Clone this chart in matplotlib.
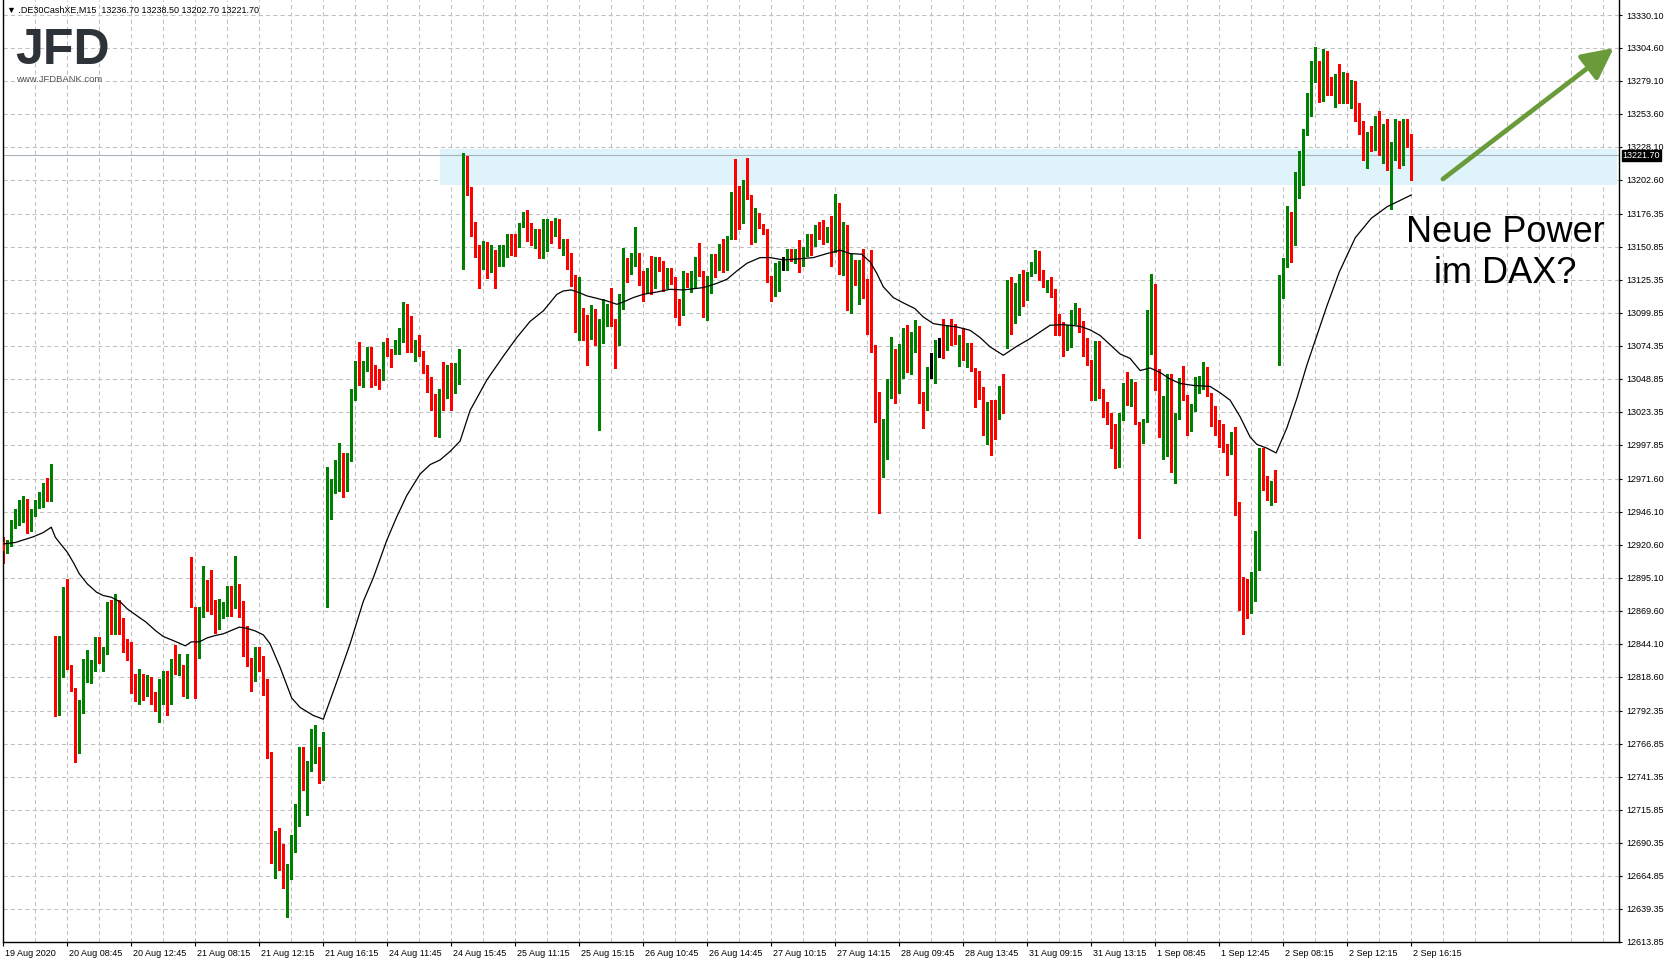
import matplotlib
matplotlib.use("Agg")
import matplotlib.pyplot as plt
from matplotlib.collections import LineCollection
from matplotlib.patches import Rectangle

plt.rcParams['font.family'] = ['Liberation Sans', 'DejaVu Sans']

# ---------------- data (M15 candles, index 0..352) ----------------
opens = [
 12922.6,12915.7,12920.3,12934.2,12936.3,12945.6,12954.8,12937.3,12943.5,12954.8,
 12955.1,12967.2,12958.7,12847.9,12795.1,12825.5,12869.8,12827.3,12808.5,12770.0,
 12795.1,12818.0,12820.2,12826.0,12839.4,12832.2,12837.1,12862.6,12857.0,12872.0,
 12859.5,12842.5,12839.4,12816.2,12809.3,12820.3,12811.8,12812.6,12799.5,12798.2,
 12798.2,12816.7,12799.0,12827.3,12822.1,12827.3,12803.4,12887.8,12866.7,12835.0,
 12866.7,12889.9,12872.9,12870.3,12859.5,12867.2,12871.1,12884.8,12873.4,12882.2,
 12876.8,12853.3,12830.6,12823.5,12837.4,12829.6,12816.4,12759.6,12682.0,12690.4,
 12688.5,12664.9,12670.0,12688.2,12704.0,12750.5,12734.9,12747.6,12757.4,12757.4,
 12749.4,12872.2,12951.6,12962.5,12973.5,12980.0,12964.3,12987.0,13037.2,13061.9,
 13046.3,13057.3,13068.9,13054.7,13049.9,13048.9,13071.8,13070.0,13069.3,13071.8,
 13079.1,13098.4,13096.2,13070.0,13075.1,13070.0,13056.1,13048.1,13029.2,13014.6,
 13040.1,13035.4,13059.8,13040.1,13046.3,13142.9,13219.4,13196.4,13169.1,13145.4,
 13142.9,13152.0,13135.6,13147.2,13139.2,13148.3,13152.0,13155.6,13152.0,13152.0,
 13167.3,13169.1,13167.3,13158.9,13164.0,13147.7,13167.1,13169.6,13164.5,13169.1,
 13151.0,13153.6,13138.2,13128.9,13088.5,13103.4,13085.1,13083.3,13101.9,13056.3,
 13091.1,13098.0,13101.9,13091.8,13076.4,13105.7,13140.8,13133.6,13136.9,13145.9,
 13130.5,13118.9,13123.3,13120.7,13140.8,13137.4,13125.8,13131.8,13127.6,13101.9,
 13098.3,13127.1,13123.8,13128.9,13141.3,13129.7,13096.7,13127.6,13139.7,13133.6,
 13150.0,13133.6,13157.5,13218.6,13180.7,13169.6,13200.0,13190.7,13159.3,13170.9,
 13167.6,13164.5,13128.4,13114.2,13131.5,13137.4,13136.6,13145.1,13140.8,13149.0,
 13143.9,13150.3,13156.8,13152.1,13164.5,13159.9,13158.1,13159.4,13154.7,13178.0,
 13155.5,13163.2,13104.0,13138.0,13125.1,13137.5,13123.8,13126.4,13071.0,13038.3,
 12996.8,13002.8,13049.1,13064.6,13046.6,13060.7,13081.9,13069.0,13078.7,13088.6,
 13038.0,13028.0,13054.8,13056.1,13078.7,13079.5,13072.3,13088.3,13084.4,13078.7,
 13080.0,13064.6,13071.8,13056.4,13045.3,13042.7,13013.1,13027.2,13023.4,13022.6,
 13036.3,13083.9,13108.4,13094.7,13105.8,13123.8,13112.8,13130.3,13135.4,13145.2,
 13129.0,13120.8,13124.4,13118.7,13097.6,13091.1,13075.4,13083.8,13099.6,13101.0,
 13091.0,13079.0,13062.4,13042.4,13078.1,13040.1,13026.7,13019.0,13002.4,12999.6,
 13019.6,13035.3,13029.6,13045.3,13015.3,13000.2,13017.3,13086.7,13107.5,13055.3,
 13008.1,13016.7,13032.4,12992.4,13021.0,13048.7,13034.4,13013.9,13023.9,13040.1,
 13042.4,13053.8,13036.7,13025.9,13008.7,13004.7,12996.7,12991.6,13000.1,12951.6,
 12892.5,12880.0,12873.9,12878.2,12909.6,12993.9,12971.0,12956.7,12963.9,13072.4,
 13119.5,13136.1,13171.5,13153.2,13189.5,13202.9,13238.1,13268.6,13278.9,13290.9,
 13266.6,13298.0,13270.9,13270.9,13288.0,13268.0,13282.0,13266.0,13275.0,13252.0,
 13244.0,13222.0,13236.0,13230.0,13248.0,13226.0,13240.0,13218.0,13226.0,13244.0,
 13220.0,13246.0,13236.7]

highs = [
 12927.0,12924.7,12939.4,12948.4,12955.6,12958.7,12956.1,12948.1,12955.3,12961.8,
 12968.5,12972.1,12982.9,12850.5,12850.5,12888.3,12894.5,12828.0,12810.0,12800.6,
 12832.4,12839.4,12831.3,12849.2,12849.2,12841.5,12876.3,12878.1,12882.2,12877.6,
 12864.2,12847.7,12845.4,12820.9,12824.7,12820.9,12819.6,12818.3,12806.7,12816.5,
 12822.9,12822.9,12832.2,12842.8,12836.3,12827.8,12836.3,12911.5,12872.4,12872.9,
 12904.6,12893.5,12901.5,12877.6,12878.9,12876.3,12888.6,12888.6,12912.3,12890.4,
 12877.3,12857.5,12833.2,12841.5,12842.0,12835.0,12817.0,12760.3,12699.2,12702.0,
 12689.0,12673.6,12696.6,12720.3,12764.0,12764.0,12753.8,12778.6,12781.5,12764.0,
 12775.6,12980.7,12971.6,12986.2,12999.0,12991.7,12991.7,13040.9,13062.7,13077.3,
 13062.7,13073.6,13073.6,13059.8,13056.2,13077.3,13080.2,13071.8,13079.1,13088.2,
 13108.3,13106.4,13097.3,13079.1,13082.7,13070.7,13059.8,13050.0,13037.2,13040.9,
 13062.0,13059.8,13060.9,13060.9,13071.8,13223.7,13220.8,13197.5,13170.2,13152.0,
 13155.6,13154.5,13152.0,13148.3,13152.0,13152.7,13161.0,13161.0,13161.0,13169.1,
 13177.5,13179.3,13169.1,13164.7,13165.0,13172.2,13172.2,13170.9,13173.5,13172.2,
 13157.3,13157.3,13145.9,13129.0,13127.9,13103.9,13098.0,13106.0,13102.7,13094.9,
 13110.9,13106.5,13119.4,13094.9,13114.2,13149.8,13142.6,13146.4,13166.0,13146.4,
 13132.3,13134.9,13143.9,13143.4,13143.4,13140.0,13134.9,13134.9,13127.9,13110.4,
 13132.3,13130.5,13132.3,13143.4,13153.6,13132.3,13128.4,13145.1,13145.1,13152.9,
 13157.3,13159.3,13193.6,13218.6,13198.0,13202.6,13219.9,13190.7,13180.7,13176.8,
 13168.9,13165.0,13128.4,13138.2,13140.0,13143.4,13149.5,13149.5,13149.5,13156.0,
 13150.8,13160.6,13161.2,13167.6,13170.0,13172.0,13166.3,13175.0,13192.0,13185.0,
 13170.0,13167.6,13145.7,13141.1,13140.6,13149.6,13126.4,13148.8,13074.9,13038.5,
 13018.2,13049.1,13081.3,13072.3,13075.7,13087.8,13090.4,13085.2,13094.2,13089.6,
 13038.8,13058.1,13068.5,13078.7,13080.8,13095.5,13090.4,13095.5,13091.6,13082.6,
 13087.8,13076.2,13076.2,13056.9,13055.1,13042.7,13031.1,13032.4,13032.4,13043.2,
 13052.5,13125.6,13127.7,13122.6,13130.3,13132.9,13131.6,13139.3,13148.3,13147.8,
 13132.9,13125.1,13127.7,13118.7,13098.9,13092.9,13090.4,13101.8,13107.2,13103.8,
 13093.8,13080.1,13063.8,13078.1,13078.1,13041.0,13031.0,13022.4,13013.9,13022.4,
 13045.3,13053.8,13048.7,13046.7,13015.3,13018.2,13102.4,13130.1,13122.4,13056.7,
 13035.3,13052.4,13052.4,13022.4,13049.6,13059.0,13036.7,13029.6,13050.4,13051.0,
 13061.8,13058.1,13038.1,13028.1,13016.7,13013.9,12998.2,13008.1,13011.6,12953.9,
 12896.0,12893.9,12899.6,12931.0,12995.3,12995.3,12973.9,12969.6,12978.2,13129.5,
 13142.4,13182.4,13178.1,13208.6,13225.2,13242.3,13269.5,13294.3,13305.7,13294.3,
 13303.7,13302.3,13282.3,13284.6,13292.0,13286.0,13285.0,13280.0,13279.0,13262.0,
 13248.0,13240.0,13244.0,13252.0,13256.0,13246.0,13250.0,13232.0,13250.0,13248.0,
 13250.0,13250.0,13238.5]

lows = [
 12906.4,12914.1,12920.0,12933.7,12935.8,12938.1,12929.6,12931.6,12943.0,12948.9,
 12950.2,12954.3,12954.3,12787.9,12788.7,12818.3,12824.7,12807.5,12753.0,12760.0,
 12790.3,12814.4,12814.0,12822.9,12829.4,12822.9,12836.3,12851.8,12851.8,12851.8,
 12837.6,12831.7,12806.1,12799.7,12797.7,12800.8,12803.4,12797.7,12792.0,12784.0,
 12797.7,12789.4,12797.7,12820.9,12819.6,12803.4,12802.4,12872.4,12802.0,12833.2,
 12864.7,12869.1,12867.2,12852.3,12855.7,12864.2,12865.9,12865.2,12871.6,12864.7,
 12834.8,12826.6,12807.5,12815.7,12823.0,12804.9,12756.0,12674.7,12663.0,12669.3,
 12655.0,12633.0,12662.0,12683.1,12703.0,12731.2,12711.9,12745.8,12752.3,12736.7,
 12738.5,12872.2,12940.7,12960.7,12962.5,12957.8,12962.5,12985.5,13032.8,13044.5,
 13042.7,13054.7,13042.7,13044.5,13040.9,13048.1,13066.4,13058.4,13068.2,13068.2,
 13077.3,13070.0,13069.3,13062.7,13066.4,13053.6,13039.0,13024.5,13004.4,13003.7,
 13024.5,13034.3,13024.5,13038.0,13045.2,13133.7,13190.9,13159.2,13142.9,13119.2,
 13133.7,13126.5,13131.2,13119.2,13136.3,13136.3,13142.9,13144.7,13143.6,13150.9,
 13166.5,13155.6,13152.0,13150.1,13142.1,13142.6,13147.7,13154.2,13159.3,13150.3,
 13144.4,13133.6,13120.7,13085.1,13078.9,13078.9,13059.9,13079.5,13074.8,13009.4,
 13076.9,13089.8,13089.8,13057.6,13075.3,13103.2,13123.8,13129.7,13136.1,13121.2,
 13109.1,13115.5,13114.2,13119.4,13132.3,13116.8,13119.4,13122.0,13096.7,13090.5,
 13098.0,13120.2,13116.0,13119.4,13128.4,13097.0,13094.1,13115.0,13127.9,13133.1,
 13131.8,13133.1,13157.3,13157.3,13165.0,13169.1,13188.2,13152.9,13154.7,13165.8,
 13160.6,13123.8,13109.1,13112.9,13116.8,13133.1,13133.1,13140.0,13138.7,13131.5,
 13136.1,13143.9,13144.4,13151.4,13157.3,13153.0,13154.7,13136.0,13147.0,13130.3,
 13129.0,13102.4,13099.9,13121.3,13107.1,13111.0,13083.4,13069.7,13015.6,12945.3,
 12973.1,12987.3,13033.7,13030.3,13038.0,13049.9,13054.3,13052.5,13069.7,13030.3,
 13010.5,13024.7,13049.9,13045.3,13065.4,13065.1,13071.5,13074.9,13075.7,13058.9,
 13063.8,13058.1,13055.1,13027.2,13033.2,13005.3,12998.9,12990.4,13002.0,13018.2,
 13022.1,13073.1,13083.9,13092.0,13098.1,13105.0,13110.0,13128.0,13131.0,13125.1,
 13120.0,13116.1,13112.3,13082.6,13082.6,13066.4,13071.5,13073.3,13091.0,13085.3,
 13066.7,13059.6,13032.4,13032.4,13033.8,13019.6,13013.9,12995.3,12980.2,12981.0,
 13016.7,13028.7,13028.1,13013.9,12925.9,12999.6,13015.3,13068.1,13040.1,13003.9,
 12986.7,12989.6,12976.8,12968.2,13018.2,13032.4,13005.3,13008.7,13023.9,13038.1,
 13041.0,13035.3,13012.5,13005.3,12996.1,12992.4,12974.4,12991.0,12943.9,12870.0,
 12852.0,12863.9,12867.6,12876.8,12901.1,12963.0,12955.3,12951.6,12953.9,13059.6,
 13111.0,13135.2,13139.5,13152.4,13188.6,13198.9,13237.2,13252.3,13278.0,13262.9,
 13263.8,13268.6,13268.6,13258.9,13262.0,13262.0,13262.0,13258.0,13248.0,13238.0,
 13218.0,13212.0,13225.0,13226.0,13222.0,13216.0,13210.0,13180.0,13218.0,13212.0,
 13214.0,13228.0,13202.7]

closes = [
 12915.7,12921.3,12933.7,12936.3,12944.8,12954.3,12937.8,12943.0,12954.8,12955.3,
 12967.2,12958.2,12981.6,12795.1,12826.6,12870.3,12828.1,12810.6,12766.0,12795.6,
 12818.0,12819.6,12826.3,12839.4,12831.9,12836.3,12862.1,12857.7,12872.0,12859.5,
 12843.3,12838.4,12818.0,12809.3,12822.1,12812.6,12813.1,12799.0,12798.2,12799.0,
 12816.2,12798.7,12826.6,12823.0,12827.3,12804.2,12835.8,12884.8,12831.7,12868.0,
 12891.4,12871.1,12869.8,12859.5,12867.2,12871.1,12884.8,12870.3,12882.2,12876.3,
 12853.1,12829.6,12823.0,12837.9,12829.9,12814.4,12757.8,12682.0,12690.4,12688.9,
 12664.9,12670.0,12690.4,12703.9,12751.2,12735.6,12747.6,12757.4,12758.5,12749.4,
 12756.0,12950.5,12962.5,12973.5,12980.0,12962.5,12989.1,13035.4,13061.6,13045.2,
 13058.0,13069.3,13053.6,13048.9,13048.1,13071.1,13070.0,13069.6,13072.9,13079.1,
 13097.3,13095.5,13070.0,13075.1,13069.3,13054.7,13046.3,13028.1,13013.5,13039.0,
 13035.4,13059.1,13035.4,13050.7,13067.1,13223.0,13196.4,13169.1,13145.4,13142.1,
 13153.1,13130.1,13146.5,13139.2,13150.1,13152.0,13155.6,13153.1,13150.1,13167.3,
 13170.2,13166.5,13158.2,13162.9,13147.2,13167.6,13169.6,13164.5,13169.1,13151.0,
 13153.6,13136.6,13128.9,13088.5,13103.9,13084.6,13084.1,13102.7,13079.5,13094.2,
 13098.8,13101.9,13091.8,13076.4,13105.7,13139.7,13132.8,13137.4,13146.4,13128.9,
 13118.1,13123.3,13120.2,13139.2,13136.6,13126.4,13131.0,13127.6,13101.4,13098.8,
 13128.4,13123.8,13128.4,13140.8,13129.7,13097.5,13127.6,13138.2,13133.6,13149.0,
 13133.1,13157.5,13190.2,13179.4,13169.6,13201.8,13190.2,13159.3,13169.6,13167.1,
 13164.0,13127.1,13115.0,13132.0,13139.2,13137.4,13146.4,13141.3,13147.7,13144.4,
 13149.5,13157.5,13151.4,13164.5,13159.9,13157.8,13159.4,13154.7,13178.0,13156.0,
 13163.2,13104.0,13138.5,13124.6,13138.5,13122.0,13092.9,13069.7,13038.0,12997.6,
 13016.9,13047.9,13063.8,13047.3,13060.7,13082.6,13076.7,13080.0,13089.6,13038.8,
 13028.5,13054.8,13054.8,13078.0,13078.7,13072.3,13089.0,13084.4,13077.4,13079.3,
 13064.6,13072.3,13055.6,13045.3,13041.4,13013.1,13027.7,13022.6,13021.3,13037.0,
 13029.8,13108.4,13094.7,13105.8,13123.8,13112.8,13130.3,13135.4,13140.0,13128.2,
 13120.8,13123.8,13116.9,13097.6,13091.1,13073.6,13083.1,13099.6,13103.0,13090.1,
 13078.1,13062.4,13042.4,13078.1,13039.6,13027.3,13021.0,13002.4,12999.6,13021.0,
 13034.4,13029.6,13044.7,13015.3,12926.7,13017.3,13086.7,13106.7,13055.3,13008.1,
 13016.7,13031.0,12992.4,13021.0,13048.7,13033.8,13013.9,13023.9,13041.9,13042.4,
 13053.3,13036.7,13025.3,13008.1,13004.7,12994.4,12991.6,12999.6,12952.5,12892.5,
 12875.0,12873.9,12877.3,12909.6,12993.9,12971.0,12956.7,12963.9,12963.0,13119.5,
 13135.2,13171.5,13153.8,13190.9,13202.9,13238.1,13268.6,13278.0,13290.9,13265.2,
 13297.2,13270.3,13269.5,13283.2,13268.0,13282.0,13266.0,13275.0,13252.0,13244.0,
 13222.0,13236.0,13230.0,13248.0,13226.0,13240.0,13218.0,13226.0,13244.0,13220.0,
 13246.0,13236.7,13221.7]

# moving average line, read at bar positions
ma_x = [0, 3, 7.5, 10, 12, 13, 14.3, 16, 17.7, 19, 21, 23.3, 25, 27, 29.3, 31, 33.3, 35.7,
        38, 40, 42, 44, 45.5, 47, 49, 51, 53, 55, 57, 59, 61, 63, 65, 66.7, 69.2, 72.1,
        74.2, 77.5, 80, 83.4, 86.7, 90, 92.5, 95.9, 98.4, 100.9, 104.2, 106.7, 109.2,
        111.7, 114.2, 116.7, 120.9, 125, 128.4, 131.7, 135, 138.4, 140, 142, 144, 145.9,
        148.4, 150.9, 153.4, 155, 157.5, 160, 163.4, 166.7, 170, 175, 178.4, 180.9,
        183.4, 185.9, 189.2, 191.7, 195, 198.4, 202.5, 205.9, 209.2, 211.7, 214.6,
        216.7, 218.4, 220, 222.5, 225, 227.9, 230, 232.5, 235, 238.4, 241.7, 244.2,
        246.7, 250, 253.4, 256.7, 259.2, 261.7, 265, 269.2, 271.7, 274.2, 276.7,
        279.2, 281.7, 284.2, 286.7, 289.2, 291.7, 294.2, 297.5, 301.7, 304.2, 306.7,
        309.2, 311.7, 313.4, 315.9, 318.2, 320.9, 323.4, 325.9, 328.4, 330.9, 334,
        338, 342, 346, 352]
ma_y = [12921.3, 12922.4, 12926.8, 12930.1, 12934.2, 12926.5, 12921.3, 12914.9, 12905.9,
        12898.2, 12890.4, 12884.0, 12881.4, 12880.1, 12876.3, 12871.1, 12866.0, 12860.8,
        12854.4, 12849.7, 12847.2, 12844.6, 12842.5, 12845.6, 12845.6, 12848.7, 12850.5,
        12851.8, 12854.4, 12857.0, 12856.0, 12854.0, 12851.0, 12844.1, 12825.9, 12802.2,
        12794.9, 12788.7, 12785.8, 12815.0, 12844.1, 12876.9, 12895.1, 12924.3, 12942.5,
        12958.9, 12975.3, 12982.6, 12986.2, 12992.8, 13000.8, 13024.5, 13048.1, 13066.4,
        13080.9, 13093.3, 13101.4, 13114.2, 13116.8, 13117.6, 13115.5, 13113.0, 13111.1,
        13109.1, 13106.5, 13108.3, 13111.7, 13114.2, 13116.0, 13118.1, 13117.6, 13119.4,
        13122.7, 13125.8, 13132.3, 13138.2, 13142.6, 13142.6, 13140.8, 13141.5, 13142.6,
        13145.7, 13148.3, 13145.7, 13145.2, 13139.3, 13130.3, 13120.0, 13111.7, 13107.6,
        13103.2, 13096.7, 13091.6, 13090.3, 13089.0, 13086.4, 13080.8, 13073.6, 13067.1,
        13074.1, 13080.0, 13085.2, 13090.3, 13090.8, 13089.5, 13086.7, 13082.4, 13075.3,
        13068.1, 13064.7, 13055.3, 13057.3, 13053.8, 13048.7, 13045.3, 13043.8, 13043.0,
        13038.1, 13032.4, 13019.6, 13003.9, 12998.2, 12995.3, 12991.6, 13011.0, 13033.8,
        13059.6, 13082.4, 13105.2, 13131.5, 13158.0, 13173.0, 13182.0, 13191.0]

time_labels = ["19 Aug 2020", "20 Aug 08:45", "20 Aug 12:45", "21 Aug 08:15", "21 Aug 12:15",
               "21 Aug 16:15", "24 Aug 11:45", "24 Aug 15:45", "25 Aug 11:15", "25 Aug 15:15",
               "26 Aug 10:45", "26 Aug 14:45", "27 Aug 10:15", "27 Aug 14:15", "28 Aug 09:45",
               "28 Aug 13:45", "31 Aug 09:15", "31 Aug 13:15", "1 Sep 08:45", "1 Sep 12:45",
               "2 Sep 08:15", "2 Sep 12:15", "2 Sep 16:15"]
time_label_bars = [0, 16, 32, 48, 64, 80, 96, 112, 128, 144, 160, 176, 192, 208, 224, 240,
                   256, 272, 288, 304, 320, 336, 352]

price_ticks = [13330.10, 13304.60, 13279.10, 13253.60, 13228.10, 13202.60, 13176.35, 13150.85,
               13125.35, 13099.85, 13074.35, 13048.85, 13023.35, 12997.85, 12971.60, 12946.10,
               12920.60, 12895.10, 12869.60, 12844.10, 12818.60, 12792.35, 12766.85, 12741.35,
               12715.85, 12690.35, 12664.85, 12639.35, 12613.85]

last_price = 13221.70
zone_low, zone_high, zone_start = 13198.7, 13226.8, 109.2
arrow_from = (359.9, 13203.3)
arrow_to = (402.6, 13304.6)
header = "\u25BC .DE30CashXE,M15  13236.70 13238.50 13202.70 13221.70"
annotation = "Neue Power\nim DAX?"

# ---------------- figure ----------------
W, H = 1670, 963
fig = plt.figure(figsize=(W / 100, H / 100), dpi=100)
ax_left, ax_right, ax_bottom, ax_top = 3, 1619, 942, 0
ax = fig.add_axes([ax_left / W, (H - ax_bottom) / H, (ax_right - ax_left) / W, (ax_bottom - ax_top) / H])

px = 4.0  # pixels per bar
xmin = (ax_left - 3.3) / px
xmax = (ax_right - 3.3) / px
ax.set_xlim(xmin, xmax)
ax.set_ylim(12613.6, 13341.7)

# grid
grid_kw = dict(color='#c0c0c0', lw=0.75, ls=(0, (4, 3)), zorder=0)
for p in price_ticks:
    ax.axhline(p, **grid_kw)
for b in range(8, 404, 8):
    ax.axvline(b, **grid_kw)

# support/resistance zone
ax.add_patch(Rectangle((zone_start, zone_low), xmax - 0.4 - zone_start, zone_high - zone_low,
                       facecolor='#dff3fb', edgecolor='none', zorder=0.5))
ax.axhline(last_price, color='#a9b3bb', lw=0.8, zorder=0.6)

# candles
up_c, dn_c, dj_c = '#008000', '#ff0000', '#000000'
segs, seg_cols = [], []
bx, bb, bh, bc = [], [], [], []
min_h = 0.8
for i, (o, h, l, c) in enumerate(zip(opens, highs, lows, closes)):
    col = up_c if c > o else (dn_c if c < o else dj_c)
    segs.append([(i, min(l, o, c)), (i, max(h, o, c))])
    seg_cols.append(col)
    lo = min(o, c)
    hgt = abs(c - o)
    if hgt < min_h:
        lo -= (min_h - hgt) / 2
        hgt = min_h
    bx.append(i); bb.append(lo); bh.append(hgt); bc.append(col)
ax.add_collection(LineCollection(segs, colors=seg_cols, linewidths=0.9, zorder=2, antialiased=False))
ax.bar(bx, bh, bottom=bb, width=0.75, color=bc, linewidth=0, zorder=3, antialiased=False)

# moving average
ax.plot(ma_x, ma_y, color='black', lw=0.9, zorder=4)

# spines / ticks
for s in ['left', 'right', 'bottom']:
    ax.spines[s].set_color('black')
    ax.spines[s].set_linewidth(1.0)
ax.spines['top'].set_visible(False)
ax.yaxis.tick_right()
ax.set_yticks(price_ticks)
ax.set_yticklabels(["%.2f" % p for p in price_ticks], fontsize=6.5)
ax.tick_params(axis='y', length=2.5, width=0.8, pad=2.5, colors='black')
ax.set_xticks(time_label_bars)
ax.set_xticklabels([])
ax.tick_params(axis='x', length=3, width=0.8)
for b, lab in zip(time_label_bars, time_labels):
    ax.annotate(lab, xy=(b, 0), xycoords=('data', 'axes fraction'), xytext=(1.2, -8.2),
                textcoords='offset points', ha='left', va='center', fontsize=6.5, annotation_clip=False)

# current price box
ax.annotate("%.2f" % last_price, xy=(1, last_price), xycoords=('axes fraction', 'data'),
            xytext=(2.6, 0), textcoords='offset points', ha='left', va='center', fontsize=6.5,
            color='white', annotation_clip=False,
            bbox=dict(boxstyle='square,pad=0.12', fc='black', ec='black'), zorder=10)

# arrow and annotation text
ax.annotate('', xy=arrow_to, xytext=arrow_from,
            arrowprops=dict(arrowstyle='-|>,head_length=0.5,head_width=0.25', color='#6a9b3a',
                            lw=3.4, mutation_scale=38, shrinkA=0, shrinkB=0), zorder=6)
ax.text(375.4, 13146.2, annotation, ha='center', va='center', fontsize=26, color='black',
        linespacing=1.2, zorder=6)

# header and logo
fig.text(7 / W, 1 - 10.5 / H, header, fontsize=6.5, ha='left', va='center', color='black')
fig.text(15 / W, 1 - 64 / H, "JFD", fontsize=36, fontweight='bold', color='#2d3339',
         ha='left', va='baseline')
fig.text(16 / W, 1 - 81.5 / H, "www.JFDBANK.com", fontsize=6.8, color='#555555', ha='left', va='baseline')

fig.savefig("out.png", dpi=100, facecolor='white')
